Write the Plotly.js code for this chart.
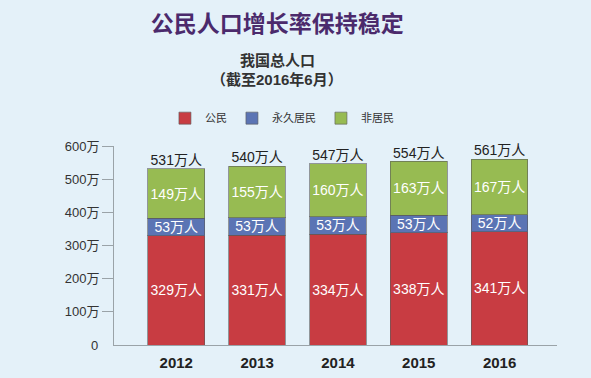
<!DOCTYPE html>
<html>
<head>
<meta charset="utf-8">
<script src="https://cdn.plot.ly/plotly-3.0.1.min.js"></script>
<style>html,body{margin:0;padding:0;background:#e4f1f9;}#chart{width:591px;height:378px;}</style>
</head>
<body>
<div id="chart"></div>
<script>
const years = ['2012', '2013', '2014', '2015', '2016'];
const citizens = [329, 331, 334, 338, 341];
const permanentResidents = [53, 53, 53, 53, 52];
const nonResidents = [149, 155, 160, 163, 167];
const totals = [531, 540, 547, 554, 561];
const seriesNames = ['公民', '永久居民', '非居民'];
const yTickVals = [100, 200, 300, 400, 500, 600];
const yTickText = ['100万', '200万', '300万', '400万', '500万', '600万'];
const yZeroLabel = '0';

const FONT = 'Liberation Sans, Arial, Noto Sans CJK SC, sans-serif';
const colors = ['#c83c42', '#5b74b4', '#97bb52'];
const lbl = v => v.map(x => x + '万人');

function barTrace(name, vals, color) {
  return {
    type: 'bar', name: name, x: years, y: vals,
    marker: {color: color, line: {color: 'rgba(90,90,90,0.6)', width: 1}},
    text: lbl(vals), textposition: 'inside', insidetextanchor: 'middle', textangle: 0,
    textfont: {family: FONT, size: 14, color: '#ffffff'},
    hoverinfo: 'none', width: 0.7
  };
}

const data = [
  barTrace(seriesNames[0], citizens, colors[0]),
  barTrace(seriesNames[1], permanentResidents, colors[1]),
  barTrace(seriesNames[2], nonResidents, colors[2]),
  {
    type: 'scatter', mode: 'text', x: years, y: totals,
    text: lbl(totals), textposition: 'top center',
    textfont: {family: FONT, size: 14, color: '#222222'},
    showlegend: false, hoverinfo: 'none', cliponaxis: false
  }
];

const layout = {
  width: 591, height: 378,
  paper_bgcolor: '#e4f1f9', plot_bgcolor: '#e4f1f9',
  margin: {l: 114, r: 34, t: 146, b: 33},
  barmode: 'stack',
  font: {family: FONT, color: '#333333'},
  uniformtext: {mode: 'show', minsize: 14},
  title: {
    text: '<b>公民人口增长率保持稳定</b>',
    font: {family: 'Noto Sans CJK SC, sans-serif', size: 23, color: '#4b2a6c'},
    x: 0.469, xref: 'container', xanchor: 'center',
    y: 1 - 24 / 378, yref: 'container', yanchor: 'middle'
  },
  annotations: [
    {text: '<b>我国总人口</b>', xref: 'paper', yref: 'paper', x: 0.368, y: 1.432,
     xanchor: 'center', yanchor: 'middle',
     showarrow: false, font: {family: FONT, size: 15, color: '#333333'}},
    {text: '<b>（截至2016年6月）</b>', xref: 'paper', yref: 'paper', x: 0.368, y: 1.332,
     xanchor: 'center', yanchor: 'middle',
     showarrow: false, font: {family: FONT, size: 15, color: '#333333'}},
    {text: yZeroLabel, xref: 'paper', yref: 'y', x: 0, xshift: -14, y: 0,
     xanchor: 'right', yanchor: 'middle',
     showarrow: false, font: {family: FONT, size: 13, color: '#333333'}}
  ],
  showlegend: true,
  legend: {
    orientation: 'h', x: 0.115, xanchor: 'left', y: 1.14, yanchor: 'middle',
    font: {family: FONT, size: 11, color: '#333333'},
    bgcolor: 'rgba(0,0,0,0)', traceorder: 'normal'
  },
  xaxis: {
    type: 'category', range: [-0.77, 4.71],
    showline: true, linecolor: '#9aa3a8', linewidth: 1,
    ticks: 'outside', ticklen: 4, tickcolor: 'rgba(0,0,0,0)',
    tickfont: {family: FONT, size: 15, color: '#222222', weight: 'bold'},
    showgrid: false, zeroline: false
  },
  yaxis: {
    range: [0, 600],
    tickvals: yTickVals, ticktext: yTickText,
    showline: true, linecolor: '#9aa3a8', linewidth: 1,
    ticks: 'outside', ticklen: 11, tickcolor: '#9aa3a8',
    tickfont: {family: FONT, size: 13, color: '#333333'},
    showgrid: false, zeroline: false
  }
};

Plotly.newPlot('chart', data, layout, {displayModeBar: false, staticPlot: true});
</script>
</body>
</html>
